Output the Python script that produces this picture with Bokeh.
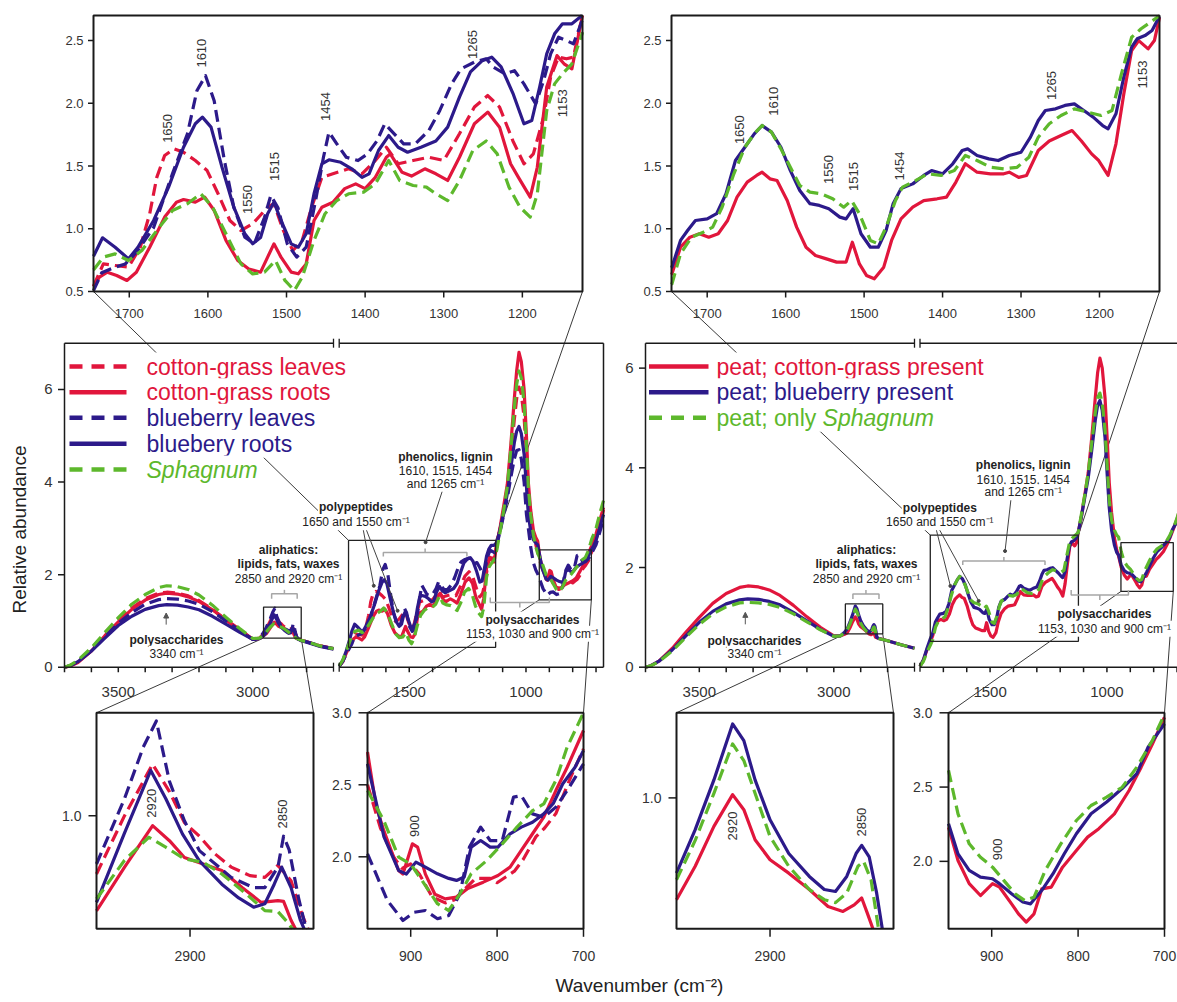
import numpy as np
from bokeh.plotting import figure
from bokeh.models import Range1d, Arrow, NormalHead
from bokeh.core.properties import value
from bokeh.embed import file_html
from bokeh.resources import INLINE

# ---------------- data: (wavenumber cm-1, relative abundance) ----------------
# plant tissues (left column)
CGL = [(3700,0.0),(3680,0.03),(3650,0.12),(3600,0.38),(3550,0.70),(3500,1.00),(3450,1.28),(3400,1.48),(3350,1.60),(3320,1.62),(3280,1.60),(3240,1.54),(3200,1.44),(3150,1.25),(3100,1.03),(3050,0.82),(3000,0.60),(2975,0.63),(2960,0.72),(2950,0.83),(2935,1.00),(2920,1.15),(2911,1.07),(2903,0.98),(2895,0.94),(2887,0.89),(2878,0.85),(2868,0.825),(2860,0.82),(2853,0.855),(2846,0.81),(2840,0.71),(2834,0.63),(2820,0.58),(2800,0.55),(2750,0.46),(2700,0.40),
       (1800,0.02),(1785,0.12),(1770,0.30),(1755,0.45),(1746,0.535),(1733,0.72),(1718,0.707),(1701,0.694),(1686,0.853),(1674,1.12),(1665,1.41),(1655,1.584),(1643,1.637),(1631,1.61),(1616,1.544),(1601,1.464),(1587,1.279),(1572,1.066),(1558,0.986),(1543,1.04),(1524,1.172),(1516,1.20),(1504,0.986),(1492,0.827),(1480,0.907),(1468,1.172),(1455,1.41),(1441,1.438),(1421,1.478),(1404,1.438),(1387,1.544),(1373,1.65),(1358,1.518),(1339,1.544),(1319,1.57),(1300,1.544),(1280,1.757),(1261,1.97),(1244,2.062),(1229,1.97),(1212,1.70),(1198,1.518),(1186,1.597),(1173,1.89),(1164,2.21),(1154,2.368),(1144,2.355),(1135,2.368),(1124,2.69),(1110,3.0),(1095,3.4),(1080,3.85),(1065,4.55),(1050,5.35),(1040,5.8),(1030,6.05),(1020,5.9),(1008,5.4),(998,4.6),(990,3.8),(980,3.25),(968,2.85),(958,2.65),(950,2.5),(935,2.2),(920,2.0),(910,1.92),(900,1.95),(890,1.88),(875,1.72),(860,1.68),(850,1.70),(840,1.76),(825,1.85),(808,1.85),(800,1.82),(790,1.86),(780,1.90),(770,1.98),(755,2.14),(745,2.20),(732,2.30),(715,2.55),(700,2.75),(685,3.05),(668,3.40)]
CGR = [(3700,0.0),(3680,0.02),(3650,0.10),(3600,0.35),(3550,0.68),(3500,0.98),(3450,1.25),(3400,1.45),(3350,1.57),(3320,1.60),(3280,1.58),(3240,1.52),(3200,1.42),(3150,1.24),(3100,1.02),(3050,0.80),(3000,0.60),(2975,0.62),(2960,0.68),(2950,0.722),(2935,0.85),(2920,0.971),(2911,0.927),(2903,0.878),(2893,0.859),(2883,0.84),(2872,0.79),(2862,0.747),(2853,0.752),(2850,0.75),(2846,0.695),(2840,0.63),(2820,0.58),(2800,0.55),(2750,0.46),(2700,0.40),
       (1800,0.02),(1785,0.12),(1770,0.30),(1755,0.45),(1746,0.535),(1738,0.614),(1728,0.654),(1716,0.628),(1703,0.588),(1691,0.654),(1674,0.853),(1655,1.093),(1640,1.212),(1631,1.233),(1616,1.212),(1604,1.252),(1592,1.146),(1577,0.907),(1562,0.747),(1548,0.68),(1533,0.654),(1524,0.774),(1516,0.88),(1507,0.774),(1494,0.654),(1485,0.641),(1475,0.72),(1465,1.066),(1455,1.172),(1441,1.212),(1426,1.32),(1412,1.358),(1400,1.32),(1387,1.41),(1373,1.57),(1368,1.597),(1353,1.45),(1341,1.42),(1324,1.478),(1310,1.438),(1295,1.385),(1280,1.57),(1261,1.837),(1244,1.93),(1229,1.81),(1215,1.518),(1205,1.41),(1190,1.252),(1181,1.49),(1169,2.13),(1156,2.38),(1147,2.315),(1137,2.275),(1124,2.69),(1110,3.05),(1095,3.5),(1080,3.95),(1065,4.8),(1050,5.8),(1040,6.4),(1030,6.8),(1020,6.6),(1008,6.0),(998,5.0),(990,4.0),(980,3.4),(968,2.95),(958,2.8),(950,2.727),(940,2.35),(931,2.18),(914,1.905),(909,1.88),(898,2.09),(892,2.067),(883,1.88),(872,1.74),(860,1.708),(847,1.72),(834,1.78),(816,1.824),(799,1.87),(785,1.928),(772,2.044),(759,2.16),(746,2.275),(732,2.46),(719,2.62),(700,2.877),(685,3.15),(668,3.45)]
BBL = [(3700,0.0),(3680,0.03),(3650,0.12),(3600,0.36),(3550,0.66),(3500,0.95),(3450,1.18),(3400,1.36),(3350,1.46),(3320,1.48),(3280,1.47),(3240,1.43),(3200,1.36),(3150,1.20),(3100,1.00),(3050,0.80),(3000,0.60),(2975,0.62),(2960,0.75),(2950,0.859),(2935,1.05),(2925,1.20),(2918,1.276),(2911,1.10),(2903,0.985),(2895,0.898),(2878,0.82),(2866,0.79),(2860,0.79),(2853,0.85),(2850,0.94),(2847,0.90),(2842,0.76),(2838,0.67),(2830,0.60),(2800,0.55),(2750,0.46),(2700,0.40),
       (1800,0.02),(1785,0.12),(1770,0.28),(1755,0.42),(1746,0.50),(1735,0.65),(1720,0.69),(1705,0.72),(1690,0.82),(1669,1.01),(1645,1.44),(1626,1.757),(1614,2.10),(1603,2.22),(1592,2.02),(1579,1.544),(1567,1.17),(1553,0.933),(1541,0.88),(1528,1.09),(1520,1.265),(1511,1.17),(1499,0.88),(1487,0.774),(1475,0.853),(1463,1.225),(1453,1.57),(1446,1.77),(1436,1.677),(1424,1.57),(1409,1.544),(1397,1.597),(1385,1.70),(1375,1.837),(1363,1.757),(1351,1.677),(1336,1.677),(1319,1.783),(1305,1.943),(1290,2.155),(1278,2.275),(1261,2.328),(1246,2.355),(1237,2.29),(1222,2.235),(1210,2.26),(1198,2.155),(1183,1.996),(1173,2.18),(1164,2.394),(1154,2.527),(1144,2.50),(1135,2.474),(1124,2.66),(1110,2.95),(1095,3.3),(1080,3.65),(1065,4.1),(1050,4.5),(1040,4.68),(1030,4.7),(1020,4.5),(1008,4.0),(998,3.3),(990,3.0),(980,2.6),(968,2.25),(958,2.1),(950,2.02),(927,1.697),(909,1.558),(896,1.615),(883,1.627),(869,1.57),(856,1.592),(843,1.743),(832,2.067),(819,2.206),(808,2.113),(794,2.113),(781,2.414),(772,2.425),(759,2.298),(746,2.275),(732,2.345),(719,2.46),(700,2.645),(685,2.9),(668,3.2)]
BBR = [(3700,0.0),(3680,0.03),(3650,0.12),(3600,0.35),(3550,0.63),(3500,0.90),(3450,1.10),(3400,1.25),(3350,1.33),(3320,1.35),(3280,1.34),(3240,1.30),(3200,1.24),(3150,1.10),(3100,0.93),(3050,0.76),(3000,0.60),(2975,0.62),(2960,0.68),(2950,0.747),(2935,0.95),(2921,1.132),(2913,1.05),(2904,0.946),(2895,0.868),(2883,0.80),(2874,0.76),(2866,0.733),(2860,0.743),(2855,0.80),(2851,0.85),(2846,0.79),(2841,0.695),(2835,0.62),(2820,0.57),(2800,0.54),(2750,0.45),(2700,0.39),
       (1800,0.02),(1785,0.14),(1770,0.35),(1755,0.60),(1746,0.774),(1734,0.928),(1718,0.853),(1701,0.76),(1689,0.853),(1669,1.066),(1650,1.332),(1631,1.65),(1616,1.837),(1607,1.89),(1596,1.81),(1582,1.49),(1567,1.172),(1553,0.96),(1543,0.88),(1533,0.93),(1524,1.12),(1516,1.212),(1507,1.066),(1494,0.88),(1485,0.853),(1475,0.96),(1465,1.279),(1455,1.518),(1446,1.55),(1431,1.53),(1417,1.478),(1404,1.41),(1395,1.438),(1383,1.624),(1370,1.743),(1358,1.65),(1346,1.61),(1329,1.65),(1310,1.70),(1295,1.81),(1280,2.05),(1266,2.25),(1251,2.34),(1239,2.368),(1227,2.29),(1212,2.08),(1198,1.837),(1188,1.863),(1178,2.13),(1169,2.395),(1159,2.554),(1149,2.634),(1137,2.634),(1124,2.70),(1110,3.0),(1095,3.35),(1080,3.75),(1065,4.3),(1050,4.85),(1040,5.1),(1030,5.2),(1020,5.05),(1008,4.6),(998,3.9),(990,3.3),(980,2.95),(968,2.75),(958,2.68),(950,2.645),(931,2.14),(914,1.905),(905,1.88),(894,1.963),(883,1.928),(869,1.882),(856,1.85),(847,1.836),(838,1.86),(830,2.067),(819,2.113),(808,2.067),(799,2.067),(785,2.16),(772,2.206),(759,2.24),(746,2.298),(735,2.37),(724,2.507),(710,2.62),(700,2.738),(685,3.0),(668,3.3)]
SPH = [(3700,0.0),(3680,0.04),(3650,0.15),(3600,0.42),(3550,0.75),(3500,1.07),(3450,1.36),(3400,1.57),(3350,1.72),(3320,1.76),(3280,1.74),(3240,1.68),(3200,1.56),(3150,1.34),(3100,1.08),(3050,0.84),(3000,0.62),(2975,0.63),(2960,0.70),(2950,0.757),(2935,0.87),(2922,0.937),(2913,0.908),(2903,0.874),(2893,0.864),(2883,0.83),(2870,0.772),(2860,0.723),(2853,0.72),(2848,0.69),(2840,0.63),(2820,0.58),(2800,0.55),(2750,0.46),(2700,0.40),
       (1800,0.03),(1785,0.15),(1770,0.35),(1755,0.55),(1746,0.667),(1733,0.774),(1718,0.80),(1701,0.747),(1684,0.827),(1665,0.986),(1645,1.146),(1626,1.20),(1609,1.279),(1594,1.172),(1577,0.96),(1558,0.72),(1543,0.64),(1528,0.654),(1514,0.747),(1502,0.588),(1490,0.508),(1480,0.614),(1465,0.907),(1451,1.12),(1436,1.225),(1421,1.279),(1402,1.292),(1387,1.358),(1370,1.544),(1356,1.385),(1339,1.345),(1322,1.332),(1310,1.279),(1295,1.225),(1280,1.385),(1263,1.624),(1246,1.70),(1232,1.597),(1217,1.332),(1203,1.172),(1190,1.093),(1181,1.279),(1169,1.943),(1159,2.155),(1149,2.235),(1137,2.315),(1124,2.554),(1110,2.95),(1095,3.4),(1080,3.9),(1065,4.7),(1050,5.6),(1040,6.1),(1030,6.4),(1020,6.25),(1008,5.7),(998,4.8),(990,3.9),(980,3.3),(968,2.85),(958,2.6),(950,2.46),(931,2.25),(914,1.998),(900,1.95),(887,1.836),(869,1.674),(856,1.627),(843,1.743),(830,1.882),(812,1.974),(794,2.09),(777,2.206),(759,2.32),(746,2.367),(732,2.53),(719,2.76),(700,3.0),(685,3.3),(668,3.6)]
# peat (right column)
PCG = [(3700,0.0),(3680,0.03),(3650,0.12),(3600,0.38),(3550,0.70),(3500,1.00),(3450,1.28),(3400,1.48),(3350,1.60),(3320,1.63),(3280,1.61),(3240,1.55),(3200,1.44),(3150,1.24),(3100,1.01),(3050,0.80),(3000,0.63),(2975,0.63),(2960,0.66),(2950,0.689),(2940,0.791),(2930,0.913),(2920,1.01),(2914,0.964),(2908,0.872),(2900,0.811),(2890,0.77),(2879,0.72),(2869,0.668),(2861,0.653),(2855,0.673),(2851,0.694),(2848,0.648),(2845,0.60),(2835,0.58),(2820,0.56),(2800,0.53),(2750,0.45),(2700,0.38),
       (1800,0.02),(1785,0.15),(1770,0.35),(1755,0.52),(1745,0.64),(1734,0.853),(1722,0.933),(1710,0.96),(1698,0.933),(1686,0.96),(1674,1.066),(1662,1.252),(1649,1.372),(1637,1.425),(1630,1.451),(1620,1.398),(1611,1.385),(1598,1.225),(1586,1.013),(1574,0.853),(1562,0.787),(1548,0.76),(1535,0.734),(1523,0.734),(1515,0.893),(1506,0.72),(1497,0.628),(1487,0.601),(1475,0.694),(1465,0.907),(1453,1.079),(1438,1.172),(1424,1.225),(1407,1.239),(1395,1.252),(1383,1.372),(1371,1.518),(1356,1.451),(1339,1.438),(1322,1.438),(1315,1.451),(1303,1.41),(1293,1.425),(1278,1.624),(1264,1.70),(1249,1.743),(1235,1.783),(1223,1.70),(1210,1.597),(1201,1.544),(1189,1.425),(1179,1.677),(1169,2.075),(1159,2.421),(1150,2.50),(1138,2.434),(1130,2.50),(1123,2.70),(1110,3.0),(1095,3.45),(1080,3.9),(1065,4.6),(1050,5.4),(1040,5.9),(1030,6.2),(1020,6.0),(1008,5.4),(998,4.5),(990,3.7),(980,3.1),(968,2.6),(958,2.35),(950,2.23),(939,2.006),(926,1.85),(913,1.77),(899,1.85),(891,1.827),(877,1.714),(869,1.647),(860,1.591),(851,1.647),(842,1.815),(831,1.827),(818,1.961),(802,2.073),(789,2.163),(776,2.22),(758,2.32),(741,2.477),(727,2.634),(714,2.79),(700,2.97),(685,3.2),(668,3.45)]
PBB = [(3700,0.0),(3680,0.03),(3650,0.12),(3600,0.35),(3550,0.63),(3500,0.90),(3450,1.12),(3400,1.27),(3350,1.35),(3320,1.37),(3280,1.36),(3240,1.32),(3200,1.25),(3150,1.10),(3100,0.93),(3050,0.76),(3000,0.62),(2975,0.63),(2960,0.70),(2950,0.77),(2940,0.903),(2930,1.055),(2920,1.226),(2914,1.175),(2908,1.055),(2900,0.933),(2890,0.83),(2879,0.76),(2871,0.72),(2865,0.714),(2859,0.76),(2854,0.83),(2851,0.855),(2847,0.82),(2843,0.709),(2840,0.60),(2830,0.57),(2800,0.53),(2750,0.45),(2700,0.38),
       (1800,0.02),(1785,0.15),(1770,0.38),(1755,0.58),(1745,0.694),(1734,0.907),(1725,0.986),(1715,1.066),(1700,1.079),(1688,1.12),(1676,1.279),(1664,1.544),(1652,1.65),(1640,1.757),(1630,1.823),(1618,1.77),(1606,1.65),(1594,1.464),(1582,1.305),(1569,1.20),(1557,1.186),(1545,1.16),(1531,1.093),(1523,1.079),(1514,1.16),(1504,0.96),(1492,0.853),(1482,0.853),(1472,0.986),(1463,1.20),(1453,1.32),(1438,1.358),(1424,1.425),(1414,1.464),(1400,1.438),(1387,1.518),(1375,1.624),(1368,1.637),(1356,1.584),(1341,1.557),(1329,1.544),(1315,1.584),(1300,1.61),(1288,1.73),(1278,1.863),(1269,1.943),(1256,1.956),(1244,1.983),(1232,1.996),(1220,1.943),(1208,1.89),(1196,1.823),(1189,1.797),(1179,1.916),(1169,2.21),(1159,2.448),(1152,2.514),(1142,2.54),(1133,2.58),(1123,2.70),(1110,3.0),(1095,3.4),(1080,3.8),(1065,4.35),(1050,4.95),(1040,5.25),(1030,5.35),(1020,5.15),(1008,4.6),(998,3.8),(990,3.2),(980,2.75),(968,2.45),(958,2.3),(950,2.253),(939,2.05),(926,1.939),(913,1.894),(899,1.883),(891,1.85),(877,1.782),(864,1.726),(855,1.714),(842,1.805),(829,1.917),(816,2.051),(802,2.186),(785,2.32),(767,2.40),(749,2.49),(732,2.59),(719,2.769),(700,2.926),(685,3.15),(668,3.40)]
PSP = [(3700,0.0),(3680,0.03),(3650,0.11),(3600,0.33),(3550,0.60),(3500,0.86),(3450,1.07),(3400,1.21),(3350,1.29),(3320,1.30),(3280,1.29),(3240,1.26),(3200,1.20),(3150,1.07),(3100,0.91),(3050,0.75),(3000,0.62),(2975,0.63),(2960,0.69),(2950,0.75),(2940,0.87),(2930,1.014),(2920,1.165),(2914,1.114),(2908,1.014),(2900,0.882),(2890,0.791),(2879,0.72),(2871,0.689),(2865,0.68),(2859,0.709),(2853,0.791),(2850,0.806),(2846,0.75),(2842,0.60),(2830,0.57),(2800,0.53),(2750,0.45),(2700,0.38),
       (1800,0.02),(1785,0.12),(1770,0.30),(1755,0.45),(1745,0.56),(1734,0.80),(1720,0.933),(1705,0.973),(1693,1.013),(1681,1.172),(1666,1.438),(1652,1.65),(1640,1.757),(1630,1.823),(1618,1.77),(1606,1.637),(1594,1.49),(1582,1.345),(1569,1.292),(1555,1.279),(1540,1.239),(1526,1.172),(1516,1.225),(1506,1.12),(1492,0.907),(1482,0.88),(1472,1.013),(1460,1.225),(1451,1.332),(1434,1.385),(1419,1.438),(1402,1.425),(1385,1.464),(1371,1.584),(1356,1.544),(1339,1.49),(1322,1.478),(1305,1.49),(1290,1.57),(1278,1.73),(1264,1.837),(1249,1.903),(1232,1.956),(1215,1.93),(1198,1.903),(1184,1.943),(1172,2.235),(1159,2.527),(1147,2.594),(1135,2.647),(1123,2.70),(1110,3.05),(1095,3.45),(1080,3.9),(1065,4.5),(1050,5.1),(1040,5.4),(1030,5.5),(1020,5.3),(1008,4.75),(998,3.95),(990,3.35),(980,2.95),(968,2.75),(958,2.65),(950,2.612),(939,2.32),(926,2.118),(913,2.028),(899,1.961),(886,1.872),(873,1.782),(862,1.737),(851,1.759),(838,1.939),(820,2.118),(802,2.275),(785,2.376),(767,2.432),(749,2.499),(732,2.634),(714,2.814),(700,2.99),(685,3.25),(668,3.50)]

LEFT_LEGEND = ["cotton-grass leaves", "cotton-grass roots", "blueberry leaves", "bluebery roots", "Sphagnum"]
RIGHT_LEGEND = ["peat; cotton-grass present", "peat; blueberry present", "peat; only ", "Sphagnum"]
TOP_XT = [1700, 1600, 1500, 1400, 1300, 1200]
TOP_YT = [0.5, 1.0, 1.5, 2.0, 2.5]
TOP_PEAKS = ["1650", "1610", "1550", "1515", "1454", "1265", "1153"]
MID_YT = [0, 2, 4, 6]
MID_A_MAJOR = [3500, 3000]
MID_A_MINOR = [3700, 3600, 3400, 3300, 3200, 3100, 2900, 2800]
MID_B_MAJOR = [1500, 1000]
MID_B_MINOR = [1700, 1600, 1400, 1300, 1200, 1100, 900, 800, 700]
INS1_XT = [2900]
INS1_YT = [1.0]
INS2_XT = [900, 800, 700]
INS2_YT = [2.0, 2.5, 3.0]

# ---------------- styling ----------------
RED, BLUE, GREEN = "#E1163C", "#2C1A8A", "#5DB82C"
AX = "#1a1a1a"
TXT = "#333333"
DASH = "12 6"
LW = 3.2
FONT = value("Liberation Sans")

W, H, OX, OY = 1177, 1002, 0, 0
p = figure(width=W, height=H, x_range=Range1d(OX, OX + W), y_range=Range1d(-(OY + H), -OY),
           output_backend="svg", toolbar_location=None, x_axis_type=None, y_axis_type=None,
           min_border=0, background_fill_color="white", border_fill_color="white")
p.outline_line_color = None
if p.title is not None:
    p.title.visible = False


def panel(name, box, xwin, ywin):
    px0, py0, px1, py1 = box
    wl, wr = xwin
    vb, vt = ywin
    kx = (px1 - px0) / (wr - wl)
    ky = (py1 - py0) / (vt - vb)
    xs = wl - (px0 - OX) / kx
    ys = vb - (OY + H - py1) / ky
    p.extra_x_ranges[name + "x"] = Range1d(start=xs, end=xs + W / kx)
    p.extra_y_ranges[name + "y"] = Range1d(start=ys, end=ys + H / ky)
    return dict(xr=name + "x", yr=name + "y", box=box, wl=wl, wr=wr, vb=vb, vt=vt, kx=kx, ky=ky)


def page(pn, w, v):
    return pn["box"][0] + (w - pn["wl"]) * pn["kx"], -(pn["box"][3] - (v - pn["vb"]) * pn["ky"])


def clip_poly(xs, ys, xmin, xmax, ymin, ymax):
    pieces, cur = [], []
    for i in range(len(xs) - 1):
        x0, y0, x1, y1 = xs[i], ys[i], xs[i + 1], ys[i + 1]
        dx, dy = x1 - x0, y1 - y0
        t0, t1, ok = 0.0, 1.0, True
        for pp, qq in ((-dx, x0 - xmin), (dx, xmax - x0), (-dy, y0 - ymin), (dy, ymax - y0)):
            if pp == 0:
                if qq < 0:
                    ok = False
                    break
            else:
                r = qq / pp
                if pp < 0:
                    if r > t1:
                        ok = False
                        break
                    t0 = max(t0, r)
                else:
                    if r < t0:
                        ok = False
                        break
                    t1 = min(t1, r)
        if not ok:
            if len(cur) > 1:
                pieces.append(cur)
            cur = []
            continue
        a = (x0 + t0 * dx, y0 + t0 * dy)
        b = (x0 + t1 * dx, y0 + t1 * dy)
        if cur and (abs(cur[-1][0] - a[0]) > 1e-9 or abs(cur[-1][1] - a[1]) > 1e-9):
            if len(cur) > 1:
                pieces.append(cur)
            cur = []
        if not cur:
            cur = [a]
        cur.append(b)
        if t1 < 1.0:
            pieces.append(cur)
            cur = []
    if len(cur) > 1:
        pieces.append(cur)
    return pieces


def draw_series(pn, data, color, dash, width=LW):
    wn = [d[0] for d in data]
    vv = [d[1] for d in data]
    lo, hi = sorted((pn["wl"], pn["wr"]))
    pieces = clip_poly(wn, vv, lo, hi, pn["vb"], pn["vt"])
    if pieces:
        p.multi_line(xs=[[q[0] for q in pc] for pc in pieces], ys=[[q[1] for q in pc] for pc in pieces],
                     x_range_name=pn["xr"], y_range_name=pn["yr"], line_color=color, line_width=width,
                     line_dash=dash, line_join="round")


def seg(pn, x0, y0, x1, y1, color=AX, width=1.5, dash="solid"):
    p.segment(x0=x0, y0=y0, x1=x1, y1=y1, x_range_name=pn["xr"], y_range_name=pn["yr"],
              line_color=color, line_width=width, line_dash=dash)


def txt(pn, x, y, t, size, color=TXT, align="center", baseline="middle", angle=0.0, style="normal", bg=None):
    kw = dict(x=x, y=y, text=t, text_font=FONT, text_font_size=size, text_color=color,
              text_align=align, text_baseline=baseline, angle=angle, text_font_style=style)
    if pn is not None:
        kw.update(x_range_name=pn["xr"], y_range_name=pn["yr"])
    if bg:
        kw.update(background_fill_color=bg, padding=1)
    p.text(**kw)


def frame(pn, width=2):
    p.quad(left=[pn["wl"]], right=[pn["wr"]], bottom=[pn["vb"]], top=[pn["vt"]],
           x_range_name=pn["xr"], y_range_name=pn["yr"], fill_alpha=0, line_color=AX, line_width=width)


def xticks(pn, ticks, labels, L, off, size):
    n = len(ticks)
    vb, ky = pn["vb"], pn["ky"]
    seg(pn, ticks, [vb] * n, ticks, [vb - L / ky] * n, AX, 1.5)
    if labels:
        txt(pn, ticks, [vb - off / ky] * n, labels, size)


def yticks(pn, ticks, labels, L, off, size):
    n = len(ticks)
    wl, kx = pn["wl"], pn["kx"]
    seg(pn, [wl] * n, ticks, [wl - L / kx] * n, ticks, AX, 1.5)
    txt(pn, [wl - off / kx] * n, ticks, labels, size, align="right")


def bracket(pn, w0, w1, v, leg_px, notch_px, color="#A6A6A6"):
    ky = pn["ky"]
    vl, vn, wc = v - leg_px / ky, v + notch_px / ky, (w0 + w1) / 2
    p.multi_line(xs=[[w0, w0, w1, w1], [wc, wc]], ys=[[vl, v, v, vl], [v, vn]],
                 x_range_name=pn["xr"], y_range_name=pn["yr"], line_color=color, line_width=1.5)


def pointer(pn, w0, v0, w1, v1):
    seg(pn, [w0], [v0], [w1], [v1], "#444444", 1)
    p.scatter(x=[w1], y=[v1], x_range_name=pn["xr"], y_range_name=pn["yr"], size=3,
              color="#444444", marker="circle")


def connector(a, b):
    p.segment(x0=[a[0]], y0=[a[1]], x1=[b[0]], y1=[b[1]], line_color="#3a3a3a", line_width=1)


# ---------------- panels ----------------
TL = panel("tl", (93, 15, 582, 291), (1745.5, 1123.5), (0.5, 2.7))
TR = panel("tr", (671, 15, 1159, 291), (1745.5, 1123.5), (0.5, 2.7))
MLA = panel("mla", (64, 342.7, 333, 666.7), (3700, 2700), (0, 7))
MLB = panel("mlb", (338.7, 342.7, 603, 666.7), (1800, 668), (0, 7))
MRA = panel("mra", (645, 342.7, 914, 666.7), (3700, 2700), (0, 6.5))
MRB = panel("mrb", (919.5, 342.7, 1184, 666.7), (1800, 668), (0, 6.5))
BL1 = panel("bl1", (96, 712.3, 313, 928.3), (2950, 2834), (0.67, 1.3))
BL2 = panel("bl2", (367, 712.3, 583, 928.3), (950, 700), (1.5, 3.0))
BR1 = panel("br1", (676, 712.3, 893, 928.3), (2950, 2834), (0.6, 1.26))
BR2 = panel("br2", (948, 712.3, 1164, 928.3), (950, 700), (1.546, 3.0))

# zoom boxes drawn in the middle panels (data coords)
ML_PHEN, ML_ALI, ML_POLY = (1760, 1130, 0.43, 2.74), (2960, 2820, 0.63, 1.30), (943, 720, 1.456, 2.536)
MR_PHEN, MR_ALI, MR_POLY = (1756, 1122, 0.52, 2.65), (2957, 2818, 0.67, 1.27), (940, 716, 1.52, 2.50)

# ---------------- connectors (under everything) ----------------
for top, mb, phen, mab, ali, ins1, poly, ins2 in ((TL, MLB, ML_PHEN, MLA, ML_ALI, BL1, ML_POLY, BL2),
                                                  (TR, MRB, MR_PHEN, MRA, MR_ALI, BR1, MR_POLY, BR2)):
    connector(page(top, top["wl"], top["vb"]), page(mb, phen[0], phen[3]))
    connector(page(top, top["wr"], top["vb"]), page(mb, phen[1], phen[3]))
    connector(page(mab, ali[0], ali[2]), page(ins1, ins1["wl"], ins1["vt"]))
    connector(page(mab, ali[1], ali[2]), page(ins1, ins1["wr"], ins1["vt"]))
    connector(page(mb, poly[0], poly[2]), page(ins2, ins2["wl"], ins2["vt"]))
    connector(page(mb, poly[1], poly[2]), page(ins2, ins2["wr"], ins2["vt"]))

# ---------------- series ----------------
LEFT_SERIES = [(CGR, RED, "solid"), (CGL, RED, DASH), (BBR, BLUE, "solid"), (BBL, BLUE, DASH), (SPH, GREEN, DASH)]
RIGHT_SERIES = [(PCG, RED, "solid"), (PBB, BLUE, "solid"), (PSP, GREEN, DASH)]
for pn in (TL, MLA, MLB, BL1, BL2):
    for d, c, ds in LEFT_SERIES:
        draw_series(pn, d, c, ds)
for pn in (TR, MRA, MRB, BR1, BR2):
    for d, c, ds in RIGHT_SERIES:
        draw_series(pn, d, c, ds)

# ---------------- frames, ticks ----------------
TOP_PEAK_POS = {
    "tl": [(1652, 1.80), (1608, 2.40), (1550, 1.233), (1515, 1.496), (1451, 1.975), (1264, 2.469), (1149, 2.0)],
    "tr": [(1659, 1.79), (1615, 2.017), (1546, 1.472), (1513.5, 1.417), (1455, 1.50), (1261, 2.142), (1145, 2.23)],
}
for pn, key in ((TL, "tl"), (TR, "tr")):
    frame(pn, 2)
    xticks(pn, TOP_XT, [str(t) for t in TOP_XT], 6, 22, "13px")
    yticks(pn, TOP_YT, ["%.1f" % t for t in TOP_YT], 5.5, 10, "13px")
    pos = TOP_PEAK_POS[key]
    txt(pn, [q[0] for q in pos], [q[1] for q in pos], TOP_PEAKS, "13px", angle=np.pi / 2)

for ins1, ins2, lab1, lab2 in ((BL1, BL2, [(2920.5, 1.036), (2850.6, 1.005)], [(896, 2.213)]),
                               (BR1, BR2, [(2920, 0.914), (2851, 0.926)], [(893.6, 2.08)])):
    frame(ins1, 2)
    frame(ins2, 2)
    xticks(ins1, INS1_XT, [str(t) for t in INS1_XT], 8, 27, "14px")
    yticks(ins1, INS1_YT, ["%.1f" % t for t in INS1_YT], 8, 15, "14px")
    xticks(ins2, INS2_XT, [str(t) for t in INS2_XT], 8, 27, "14px")
    yticks(ins2, INS2_YT, ["%.1f" % t for t in INS2_YT], 9, 16, "14px")
    txt(ins1, [q[0] for q in lab1], [q[1] for q in lab1], ["2920", "2850"], "13px", angle=np.pi / 2)
    txt(ins2, [q[0] for q in lab2], [q[1] for q in lab2], ["900"], "13px", angle=np.pi / 2)

for A, B in ((MLA, MLB), (MRA, MRB)):
    vt = A["vt"]
    seg(A, [3700, 3700, 3700], [0, vt, 0], [2700, 2700, 3700], [0, vt, vt], AX, 1.5)
    seg(B, [1800, 1800, 668], [0, vt, 0], [668, 668, 668], [0, vt, vt], AX, 1.5)
    hb = 4.5 / A["ky"]
    seg(A, [2700, 2700], [-hb, vt - hb], [2700, 2700], [hb, vt + hb], AX, 1.3)
    seg(B, [1800, 1800], [-hb, vt - hb], [1800, 1800], [hb, vt + hb], AX, 1.3)
    xticks(A, MID_A_MAJOR, [str(t) for t in MID_A_MAJOR], 5, 25, "15px")
    xticks(A, MID_A_MINOR, None, 5, 25, "15px")
    xticks(B, MID_B_MAJOR, [str(t) for t in MID_B_MAJOR], 5, 25, "15px")
    xticks(B, MID_B_MINOR, None, 5, 25, "15px")
    yticks(A, MID_YT, [str(t) for t in MID_YT], 6.5, 12, "15px")

# zoom boxes in middle panels
for A, B, phen, ali, poly in ((MLA, MLB, ML_PHEN, ML_ALI, ML_POLY), (MRA, MRB, MR_PHEN, MR_ALI, MR_POLY)):
    for pn, bx in ((B, phen), (A, ali), (B, poly)):
        p.quad(left=[bx[0]], right=[bx[1]], bottom=[bx[2]], top=[bx[3]], x_range_name=pn["xr"],
               y_range_name=pn["yr"], fill_alpha=0, line_color="#222222", line_width=1.3)

# brackets and pointers
bracket(MLA, 2930, 2835, 1.585, 5, 4)
bracket(MLB, 1611, 1253, 2.48, 4, 4)
bracket(MLB, 1153, 900, 1.40, -5, -5)
bracket(MRA, 2929, 2832, 1.468, 5, 4)
bracket(MRB, 1617, 1265, 2.13, 4, 4)
bracket(MRB, 1153, 908, 1.45, -5, -5)
pointer(MLB, 1700, 3.05, 1652, 1.76)
pointer(MLB, 1690, 3.05, 1550, 1.22)
pointer(MLB, 1351, 3.92, 1430, 2.70)
pointer(MRB, 1734, 2.83, 1670, 1.63)
pointer(MRB, 1725, 2.83, 1549, 1.33)
pointer(MRB, 1410, 3.40, 1436, 2.33)
for pn, w, v0, v1 in ((MLA, 3322, 0.92, 1.17), (MRA, 3329, 0.86, 1.10)):
    p.add_layout(Arrow(end=NormalHead(size=5, fill_color="#555555", line_color="#555555"),
                       x_start=w, y_start=v0, x_end=w, y_end=v1, x_range_name=pn["xr"],
                       y_range_name=pn["yr"], line_color="#555555", line_width=1))

# ---------------- annotation labels (page coords) ----------------
ANNOT = [
    # (x, y, text, bold)
    (176, 639.3, "polysaccharides", True), (176, 653.3, "3340 cm\u207b\u00b9", False),
    (288, 549.3, "aliphatics:", True), (288, 563.5, "lipids, fats, waxes", True), (288, 578.3, "2850 and 2920 cm\u207b\u00b9", False),
    (355.5, 506.7, "polypeptides", True), (355.5, 521.7, "1650 and 1550 cm\u207b\u00b9", False),
    (445, 456, "phenolics, lignin", True), (445, 470.7, "1610, 1515, 1454", False), (445, 483.3, "and 1265 cm\u207b\u00b9", False),
    (532, 619, "polysaccharides", True), (532, 633.3, "1153, 1030 and 900 cm\u207b\u00b9", False),
    (754, 640, "polysaccharides", True), (754, 653.3, "3340 cm\u207b\u00b9", False),
    (866, 549.3, "aliphatics:", True), (866, 563.5, "lipids, fats, waxes", True), (866, 578.3, "2850 and 2920 cm\u207b\u00b9", False),
    (939.3, 507.3, "polypeptides", True), (939.3, 521.7, "1650 and 1550 cm\u207b\u00b9", False),
    (1022.7, 464, "phenolics, lignin", True), (1022.7, 479, "1610, 1515, 1454", False), (1022.7, 491.7, "and 1265 cm\u207b\u00b9", False),
    (1104, 613.3, "polysaccharides", True), (1104, 628.3, "1153, 1030 and 900 cm\u207b\u00b9", False),
]
for bold in (True, False):
    items = [a for a in ANNOT if a[3] == bold]
    txt(None, [a[0] for a in items], [-a[1] for a in items], [a[2] for a in items], "12px",
        color="#222222", style="bold" if bold else "normal", bg="white")

# ---------------- legends ----------------
left_rows = [366, 391.7, 417.3, 443.3, 469]
left_style = [(RED, "13 9"), (RED, "solid"), (BLUE, "13 9"), (BLUE, "solid"), (GREEN, "13 9")]
for y, (c, ds) in zip(left_rows, left_style):
    p.segment(x0=[69], y0=[-y], x1=[126], y1=[-y], line_color=c, line_width=4.5, line_dash=ds)
for y, t, (c, ds) in zip(left_rows, LEFT_LEGEND, left_style):
    txt(None, [145], [-y], [t], "23px", color=c, align="left",
        style="italic" if t == "Sphagnum" else "normal", bg="white")

right_rows = [366, 391.7, 417.3]
right_style = [(RED, "solid"), (BLUE, "solid"), (GREEN, "13 9")]
for y, (c, ds) in zip(right_rows, right_style):
    p.segment(x0=[648.5], y0=[-y], x1=[708], y1=[-y], line_color=c, line_width=4.5, line_dash=ds)
txt(None, [715], [-366], [RIGHT_LEGEND[0]], "23px", color=RED, align="left", bg="white")
txt(None, [715], [-391.7], [RIGHT_LEGEND[1]], "23px", color=BLUE, align="left", bg="white")
txt(None, [715], [-417.3], [RIGHT_LEGEND[2]], "23px", color=GREEN, align="left", bg="white")
txt(None, [715 + 4.614 * 23], [-417.3], [RIGHT_LEGEND[3]], "23px", color=GREEN, align="left",
    style="italic", bg="white")

# ---------------- axis titles ----------------
txt(None, [19], [-529], ["Relative abundance"], "19px", color="#222222", angle=np.pi / 2)
txt(None, [639], [-985], ["Wavenumber (cm\u207b\u00b2)"], "19px", color="#222222")

open("out.html", "w").write(file_html(p, INLINE))
